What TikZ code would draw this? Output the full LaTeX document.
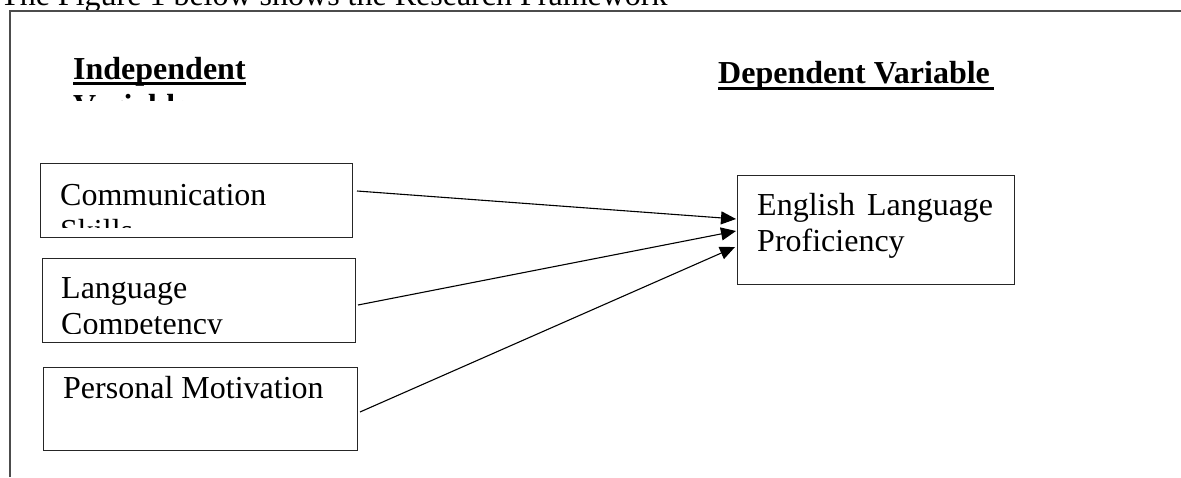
\documentclass[tikz,border=0pt]{standalone}
\usepackage{fontspec}
\setmainfont{Liberation Serif}
\usetikzlibrary{arrows.meta}
\begin{document}
\begin{tikzpicture}[x=1pt,y=-1pt,
  txt/.style={inner sep=0pt, anchor=base west, font=\fontsize{32}{36}\selectfont},
  hdr/.style={txt, font=\fontsize{32}{36}\selectfont\bfseries},
  boxnode/.style={draw=black!85, line width=1.3pt, anchor=north west, inner sep=0pt},
  frameline/.style={draw=black!70, line width=2pt},
  uline/.style={line width=3pt},
  conn/.style={line width=1.1pt, -{Triangle[length=15pt,width=13pt]}}]
\useasboundingbox (0,0) rectangle (1181,477);
\clip (0,0) rectangle (1181,477);
% title text (cut at top)
\node[txt] (title) at (0,5) {The Figure 1 below shows the Research Framework};
% frame
\coordinate (fA) at (10,477);
\coordinate (fB) at (10,11);
\coordinate (fC) at (1181,11);
\draw[frameline] (fA) -- (fB) -- (fC);
% headers
\begin{scope}
  \clip (60,40) rectangle (400,100);
  \node[hdr] (indep) at (73,79) {Independent};
  \node[hdr] (indep2) at (73,116) {Variable};
\end{scope}
\draw[uline] (73,83) -- (246,83);
\node[hdr] (dep) at (718,83) {Dependent Variable};
\draw[uline] (718,88.5) -- (994,88.5);
% boxes
\node[boxnode, minimum width=312pt, minimum height=74pt] (b1) at (40,163) {};
\node[boxnode, minimum width=313pt, minimum height=84pt] (b2) at (42,258) {};
\node[boxnode, minimum width=314pt, minimum height=83pt] (b3) at (43,367) {};
\node[boxnode, minimum width=277pt, minimum height=109pt] (b4) at (737,175) {};
% box texts
\begin{scope}
  \clip (41,164) rectangle (351,227);
  \node[txt] (t1a) at (60,205) {Communication};
  \node[txt] (t1b) at (60,241) {Skills};
\end{scope}
\begin{scope}
  \clip (43,259) rectangle (354,333);
  \node[txt] (t2a) at (61,298) {Language};
  \node[txt] (t2b) at (61,334) {Competency};
\end{scope}
\node[txt] (t3) at (63,398) {Personal Motivation};
\node[txt] (t4a) at (757,215) {English\hspace{12pt}Language};
\node[txt] (t4b) at (757,251) {Proficiency};
% connectors
\coordinate (s1) at (357,191);
\coordinate (s2) at (358,305);
\coordinate (s3) at (360,412);
\coordinate (e1) at (736,219);
\coordinate (e2) at (736,231);
\coordinate (e3) at (735,247);
\draw[conn] (s1) -- (e1);
\draw[conn] (s2) -- (e2);
\draw[conn] (s3) -- (e3);
\end{tikzpicture}
\end{document}
